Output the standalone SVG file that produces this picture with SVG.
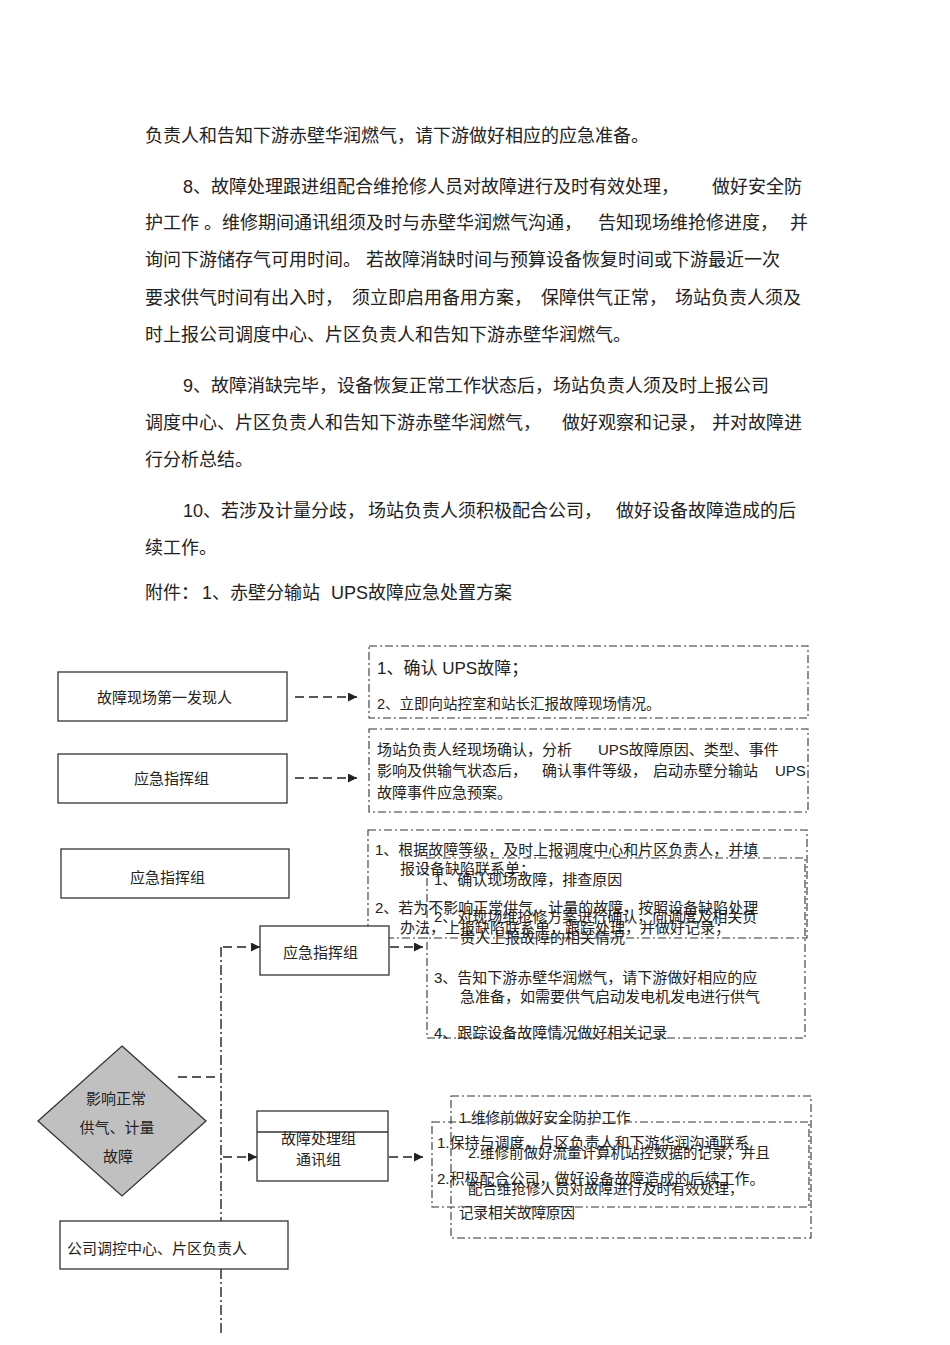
<svg xmlns="http://www.w3.org/2000/svg" width="950" height="1345" viewBox="0 0 950 1345">
<defs>
<style>
text{font-family:"Liberation Sans","Noto Sans CJK SC",sans-serif;fill:#222}
.p{font-size:18px}
.t15{font-size:15px}
.t14{font-size:14.5px}
.t17{font-size:17px}
.box{fill:#fff;stroke:#333;stroke-width:1.3}
.dd{fill:none;stroke:#333;stroke-width:1.1;stroke-dasharray:8 3 2 3}
.ddt{fill:none;stroke:#333;stroke-width:1.1;stroke-dasharray:8 3 2 3}
.dash{fill:none;stroke:#222;stroke-width:1.6;stroke-dasharray:9 5}
.dashdot{fill:none;stroke:#222;stroke-width:1.4;stroke-dasharray:10 3 2 3}
</style>
<marker id="ah" markerUnits="userSpaceOnUse" markerWidth="10" markerHeight="9" refX="9" refY="4.5" orient="auto">
<path d="M0,0 L9,4.5 L0,9 z" fill="#222"/>
</marker>
</defs>
<rect width="950" height="1345" fill="#fff"/>

<g id="body-text" class="p">
<text x="145" y="142">负责人和告知下游赤壁华润燃气，请下游做好相应的应急准备。</text>
<text x="183" y="193">8、故障处理跟进组配合维抢修人员对故障进行及时有效处理，</text>
<text x="712" y="193">做好安全防</text>
<text x="145" y="229">护工作 。维修期间通讯组须及时与赤壁华润燃气沟通，</text>
<text x="598" y="229">告知现场维抢修进度，</text>
<text x="790" y="229">并</text>
<text x="145" y="266">询问下游储存气可用时间。</text>
<text x="366" y="266">若故障消缺时间与预算设备恢复时间或下游最近一次</text>
<text x="145" y="304">要求供气时间有出入时，</text>
<text x="352" y="304">须立即启用备用方案，</text>
<text x="541" y="304">保障供气正常，</text>
<text x="675" y="304">场站负责人须及</text>
<text x="145" y="341">时上报公司调度中心、片区负责人和告知下游赤壁华润燃气。</text>
<text x="183" y="392">9、故障消缺完毕，设备恢复正常工作状态后，场站负责人须及时上报公司</text>
<text x="145" y="429">调度中心、片区负责人和告知下游赤壁华润燃气，</text>
<text x="562" y="429">做好观察和记录，</text>
<text x="712" y="429">并对故障进</text>
<text x="145" y="466">行分析总结。</text>
<text x="183" y="517">10、若涉及计量分歧，</text>
<text x="368" y="517">场站负责人须积极配合公司，</text>
<text x="616" y="517">做好设备故障造成的后</text>
<text x="145" y="554">续工作。</text>
<text x="145" y="599">附件：</text>
<text x="202" y="599">1、赤壁分输站</text>
<text x="331" y="599">UPS故障应急处置方案</text>
</g>

<g id="node-first-finder">
<rect class="box" x="58" y="672" width="229" height="49"/>
<text class="t15" x="97" y="703">故障现场第一发现人</text>
</g>
<g id="node-command-1">
<rect class="box" x="58" y="754" width="229" height="49"/>
<text class="t15" x="134" y="784">应急指挥组</text>
</g>
<g id="node-command-2">
<rect class="box" x="61" y="849" width="228" height="49"/>
<text class="t15" x="130" y="883">应急指挥组</text>
</g>

<g id="note-a">
<rect class="dd" x="369" y="646" width="439" height="72"/>
<text class="t17" x="377" y="673.5">1、确认 UPS故障；</text>
<text class="t14" x="377" y="708.5">2、立即向站控室和站长汇报故障现场情况。</text>
</g>
<g id="note-b">
<rect class="dd" x="369" y="729" width="439" height="83"/>
<text class="t15" x="377" y="755">场站负责人经现场确认，分析</text>
<text class="t15" x="598" y="755">UPS故障原因、类型、事件</text>
<text class="t15" x="377" y="776">影响及供输气状态后，</text>
<text class="t15" x="542" y="776">确认事件等级，</text>
<text class="t15" x="653" y="776">启动赤壁分输站</text>
<text class="t15" x="775" y="776">UPS</text>
<text class="t15" x="377" y="798">故障事件应急预案。</text>
</g>
<g id="note-c">
<rect class="dd" x="368" y="830" width="439" height="108"/>
<text class="t15" x="375" y="855">1、根据故障等级，及时上报调度中心和片区负责人，并填</text>
<text class="t15" x="400" y="874">报设备缺陷联系单；</text>
<text class="t15" x="375" y="913">2、若为不影响正常供气、计量的故障，按照设备缺陷处理</text>
<text class="t15" x="400" y="933">办法，上报缺陷联系单，跟踪处理，并做好记录；</text>
</g>
<g id="note-d">
<rect class="dd" x="427" y="858" width="378" height="180"/>
<text class="t15" x="434" y="885">1、确认现场故障，排查原因</text>
<text class="t15" x="434" y="922">2、对现场维抢修方案进行确认，向调度及相关负</text>
<text class="t15" x="460" y="943">责人上报故障的相关情况</text>
<text class="t15" x="434" y="983">3、告知下游赤壁华润燃气，请下游做好相应的应</text>
<text class="t15" x="460" y="1002">急准备，如需要供气启动发电机发电进行供气</text>
<text class="t15" x="434" y="1037.5">4、跟踪设备故障情况做好相关记录</text>
</g>
<g id="note-e">
<rect class="dd" x="451" y="1096" width="360" height="142"/>
<text class="t14" x="459" y="1122.5">1.维修前做好安全防护工作</text>
<text class="t14" x="468" y="1158">2.维修前做好流量计算机站控数据的记录，并且</text>
<text class="t14" x="468" y="1193.5">配合维抢修人员对故障进行及时有效处理，</text>
<text class="t14" x="459" y="1217.5">记录相关故障原因</text>
</g>
<g id="note-f">
<rect class="dd" x="432" y="1122" width="377" height="85"/>
<text class="t15" x="437" y="1148">1.保持与调度，片区负责人和下游华润沟通联系</text>
<text class="t15" x="437" y="1184">2.积极配合公司，做好设备故障造成的后续工作。</text>
</g>

<g id="connectors">
<line class="dash" x1="295" y1="697" x2="357" y2="697" marker-end="url(#ah)"/>
<line class="dash" x1="295" y1="778" x2="357" y2="778" marker-end="url(#ah)"/>
<line class="dashdot" x1="221" y1="947" x2="221" y2="1221"/>
<line class="dashdot" x1="221" y1="1269" x2="221" y2="1333"/>
<line class="dash" x1="223" y1="947" x2="260" y2="947" marker-end="url(#ah)"/>
<line class="dash" x1="223" y1="1157" x2="257" y2="1157" marker-end="url(#ah)"/>
<line class="dash" x1="390" y1="947" x2="423" y2="947" marker-end="url(#ah)"/>
<line class="dash" x1="389" y1="1157" x2="423" y2="1157" marker-end="url(#ah)"/>
<line class="dash" x1="178" y1="1077" x2="215" y2="1077"/>
</g>

<g id="node-command-3">
<rect class="box" x="260" y="926" width="129" height="49"/>
<text class="t15" x="283" y="958">应急指挥组</text>
</g>
<g id="node-decision">
<polygon points="122,1046 206,1121 122,1196 38,1121" fill="#c0c0c0" stroke="#333" stroke-width="1.3"/>
<text class="t15" x="116" y="1104" text-anchor="middle">影响正常</text>
<text class="t15" x="117" y="1133" text-anchor="middle">供气、计量</text>
<text class="t15" x="118" y="1162" text-anchor="middle">故障</text>
</g>
<g id="node-repair-comm">
<rect class="box" x="257" y="1111" width="131" height="70"/>
<line x1="257" y1="1132" x2="388" y2="1132" stroke="#333" stroke-width="1.3"/>
<text class="t15" x="281" y="1144">故障处理组</text>
<text class="t15" x="296" y="1165">通讯组</text>
</g>
<g id="node-company">
<rect class="box" x="60" y="1221" width="228" height="48"/>
<text class="t15" x="67" y="1254">公司调控中心、片区负责人</text>
</g>
</svg>
